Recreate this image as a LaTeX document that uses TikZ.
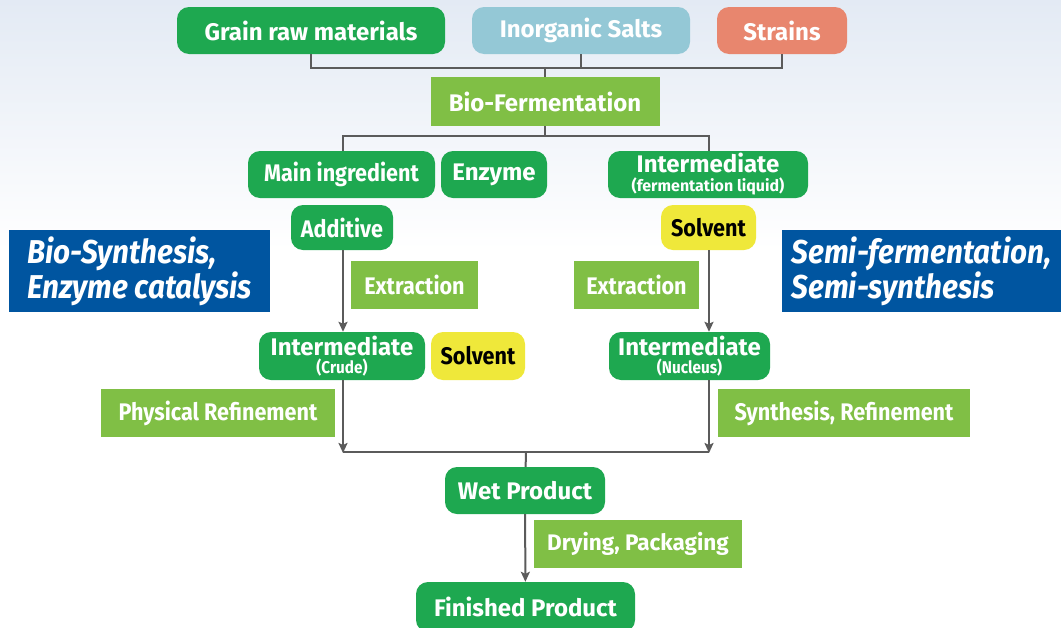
\documentclass[tikz,border=0pt]{standalone}
\usepackage{fontspec}
\setmainfont{Fira Sans}
\newfontfamily\narrow[FakeStretch=0.9]{Fira Sans}
\usetikzlibrary{arrows.meta}
\definecolor{itemgreen}{HTML}{1EA850}
\definecolor{opgreen}{HTML}{80BF45}
\definecolor{saltblue}{HTML}{94C8D6}
\definecolor{strainred}{HTML}{E8866E}
\definecolor{solvyellow}{HTML}{EFE83A}
\definecolor{routeblue}{HTML}{0055A0}
\definecolor{linkgray}{HTML}{5B5B5B}
\definecolor{bgtop}{HTML}{E3EAF4}

\begin{document}
\begin{tikzpicture}[x=1pt,y=-1pt,
    box/.style={inner sep=0pt,text=white,align=center,font=\bfseries\fontsize{24}{26}\selectfont},
    thin/.style={font=\bfseries\narrow\fontsize{24}{26}\selectfont},
    item/.style={box,rounded corners=12pt,fill=itemgreen},
    opbox/.style={box,fill=opgreen},
    solvent/.style={box,thin,rounded corners=12pt,fill=solvyellow,text=black},
    route/.style={box,fill=routeblue,align=left,
        font=\bfseries\itshape\narrow\fontsize{33}{35}\selectfont},
    link/.style={draw=linkgray,line width=2pt},
    flow/.style={link,-{Stealth[length=10pt,width=9pt,inset=2pt]}},
    sz/.style 2 args={minimum width=#1pt,minimum height=#2pt}]
\useasboundingbox (0,0) rectangle (1061,627);
\fill[top color=bgtop,bottom color=white] (0,0) rectangle (1061,250);
\fill[white] (0,250) rectangle (1061,627);

\node[item,sz={268}{47}] (grain) at (311,30.5) {Grain raw materials};
\node[box,rounded corners=12pt,fill=saltblue,sz={218}{47}] (salts) at (581,30.5) {Inorganic Salts};
\node[box,rounded corners=12pt,fill=strainred,sz={130}{47}] (strains) at (782,30.5) {Strains};
\node[opbox,sz={229}{49}] (ferm) at (545,101.5) {Bio-Fermentation};

\node[item,thin,sz={187}{47}] (main) at (341.5,174.5) {Main ingredient};
\node[item,sz={106}{47}] (enzyme) at (494,174.5) {Enzyme};
\node[item,sz={200}{47}] (liquid) at (708,174.5) {Intermediate\\[-7pt]{\fontsize{16}{16}\selectfont(fermentation liquid)}};
\node[item,thin,sz={102}{45}] (additive) at (342,227.5) {Additive};
\node[solvent,sz={95}{45}] (solvtop) at (708.5,227.5) {Solvent};

\node[opbox,thin,sz={127}{48}] (extrleft) at (414.5,285) {Extraction};
\node[opbox,thin,sz={125}{48}] (extrright) at (636.5,285) {Extraction};
\node[route,sz={261}{82}] (biosyn) at (139.5,271) {Bio-Synthesis,\\Enzyme catalysis};
\node[route,sz={279}{82}] (semisyn) at (921.5,271) {Semi-fermentation,\\Semi-synthesis};

\node[item,sz={166}{48}] (crude) at (342,356) {Intermediate\\[-8pt]{\narrow\fontsize{17}{17}\selectfont(Crude)}};
\node[solvent,sz={94}{48}] (solvmid) at (478,356) {Solvent};
\node[item,sz={161}{48}] (nucleus) at (689.5,356) {Intermediate\\[-8pt]{\narrow\fontsize{17}{17}\selectfont(Nucleus)}};
\node[opbox,thin,sz={234}{48}] (physref) at (218,413) {Physical Refinement};
\node[opbox,thin,sz={252}{48}] (synref) at (844,413) {Synthesis, Refinement};

\node[item,sz={160}{47}] (wet) at (525,490.5) {Wet Product};
\node[opbox,sz={208}{48},font=\bfseries\fontsize{22.5}{24}\selectfont] (drying) at (638,544) {Drying, Packaging};
\node[item,sz={219}{50}] (finished) at (525.5,607) {Finished Product};

\coordinate (top) at (545,68);
\coordinate (split) at (545,136);
\coordinate (merge) at (526,452);
\coordinate (leftlane) at (343,0);
\coordinate (rightlane) at (709,0);

\draw[link] (grain.south) |- (top) -| (strains.south);
\draw[link] (salts) -- (salts |- top);
\draw[link] (top) -- (ferm);
\draw[link] (ferm) -- (split);
\draw[link] (main.north -| leftlane) |- (split) -| (liquid.north -| rightlane);
\draw[flow] (additive.south -| leftlane) -- (crude.north -| leftlane);
\draw[flow] (solvtop.south -| rightlane) -- (nucleus.north -| rightlane);
\draw[flow] (crude.south -| leftlane) -- ([yshift=-1pt]merge -| leftlane);
\draw[flow] (nucleus.south -| rightlane) -- ([yshift=-1pt]merge -| rightlane);
\draw[link] (merge -| leftlane) -- (merge -| rightlane);
\draw[link] (merge) -- (wet);
\draw[flow] (wet) -- (finished);
\end{tikzpicture}
\end{document}
